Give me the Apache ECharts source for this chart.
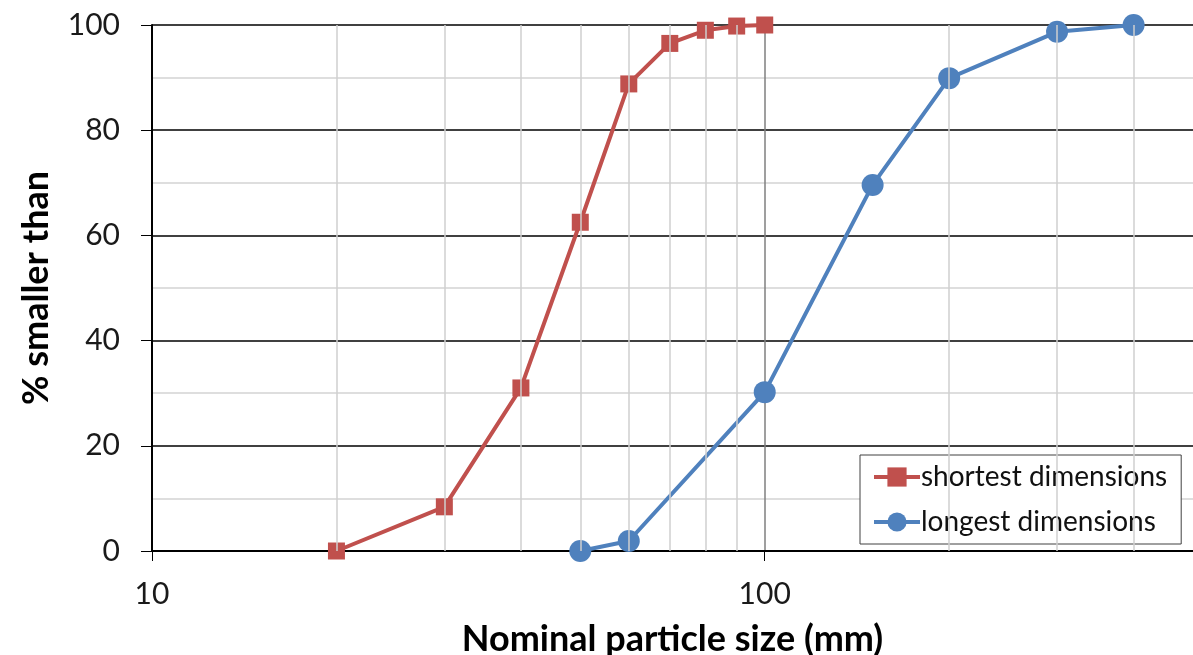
<!DOCTYPE html>
<html>
<head>
<meta charset="utf-8">
<script src="https://cdn.jsdelivr.net/npm/echarts@6/dist/echarts.min.js"></script>
<style>
html,body{margin:0;padding:0;background:#fff;}
#chart{width:1193px;height:655px;}
</style>
</head>
<body>
<div id="chart"></div>
<script>
var chart = echarts.init(document.getElementById('chart'));
// 数据
var shortSize = [20, 30, 40, 50, 60, 70, 80, 90, 100];
var shortPct = [0, 8.4, 31.0, 62.5, 88.8, 96.5, 99.0, 99.8, 100];
var longSize = [50, 60, 100, 150, 200, 300, 400];
var longPct = [0, 1.9, 30.2, 69.6, 89.9, 98.7, 100];
var minorX = [20, 30, 40, 50, 60, 70, 80, 90, 200, 300, 400]; // 次网格线
var font = 'Lato, "Open Sans", sans-serif';

function pairs(xs, ys){
    var out = [];
    for(var i = 0; i < xs.length; i++){
        out.push([xs[i], ys[i]]);
    }
    return out;
}
var minorLines = minorX.map(function(v){ return {xAxis: v}; });

var option = {
    animation: false,
    grid: {left: 152, right: 0, top: 25, bottom: 104, containLabel: false, outerBoundsMode: 'none'},
    legend: {
        orient: 'vertical',
        left: 860, top: 455,
        data: ['shortest dimensions', 'longest dimensions'],
        backgroundColor: '#fff',
        borderColor: '#404040',
        borderWidth: 1,
        padding: [6, 14, 6, 12],
        itemWidth: 46,
        itemHeight: 24,
        itemGap: 13,
        lineStyle: {width: 4},
        textStyle: {fontFamily: font, fontSize: 28, color: '#111', lineHeight: 32, padding: [0, 0, 0, -4]}
    },
    xAxis: {
        type: 'log',
        logBase: 10,
        min: 10,
        max: 500,
        name: 'Nominal particle size (mm)',
        nameLocation: 'middle',
        nameGap: 70,
        nameTextStyle: {fontFamily: font, fontSize: 36, fontWeight: 'bold', color: '#000'},
        axisLine: {lineStyle: {color: '#000', width: 2}},
        axisTick: {show: true, inside: false, length: 10, lineStyle: {color: '#000', width: 1}},
        axisLabel: {fontFamily: font, fontSize: 30, color: '#1a1a1a', margin: 28, showMaxLabel: false},
        splitLine: {show: true, showMaxLine: false, lineStyle: {color: '#7f7f7f', width: 1.5}}
    },
    yAxis: {
        type: 'value',
        min: 0,
        max: 100,
        interval: 20,
        name: '% smaller than',
        nameLocation: 'middle',
        nameGap: 98,
        nameTextStyle: {fontFamily: font, fontSize: 36, fontWeight: 'bold', color: '#000'},
        axisLine: {show: true, lineStyle: {color: '#000', width: 2}},
        axisTick: {show: true, inside: false, length: 11, lineStyle: {color: '#000', width: 1}},
        axisLabel: {fontFamily: font, fontSize: 30, color: '#1a1a1a', margin: 32},
        splitLine: {show: true, lineStyle: {color: '#000', width: 1.5}},
        minorTick: {show: false, splitNumber: 2},
        minorSplitLine: {show: true, lineStyle: {color: '#d4d4d4', width: 1.5}}
    },
    series: [
        {
            name: 'grid',
            type: 'line',
            data: [],
            z: 1,
            silent: true,
            markLine: {
                silent: true,
                symbol: 'none',
                label: {show: false},
                lineStyle: {color: '#cfcfcf', width: 1.5, type: 'solid'},
                data: minorLines
            }
        },
        {
            name: 'shortest dimensions',
            type: 'line',
            z: 3,
            data: pairs(shortSize, shortPct),
            symbol: 'rect',
            symbolSize: 17,
            lineStyle: {width: 4, color: '#C0504D'},
            itemStyle: {color: '#C0504D'}
        },
        {
            name: 'longest dimensions',
            type: 'line',
            z: 4,
            data: pairs(longSize, longPct),
            symbol: 'circle',
            symbolSize: 22,
            lineStyle: {width: 4, color: '#4F81BD'},
            itemStyle: {color: '#4F81BD'}
        }
    ]
};
chart.setOption(option);
</script>
</body>
</html>
